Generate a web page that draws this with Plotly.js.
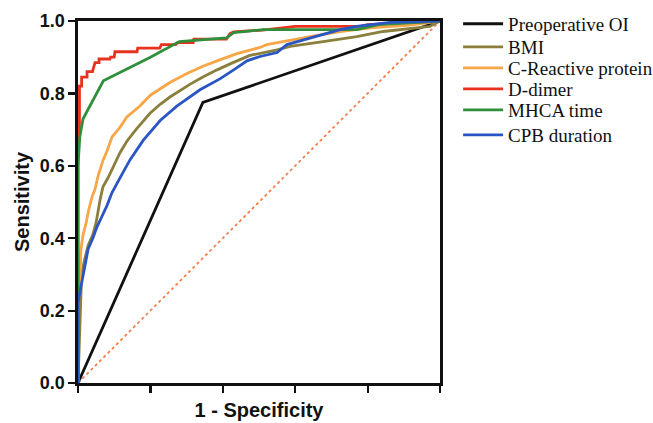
<!DOCTYPE html>
<html>
<head>
<meta charset="utf-8">
<script src="https://cdn.plot.ly/plotly-3.0.1.min.js"></script>
<style>html,body{margin:0;padding:0;background:#fff;}#chart{width:653px;height:423px;}</style>
</head>
<body>
<div id="chart"></div>
<script>
const seriesNames = ["Preoperative OI", "BMI", "C-Reactive protein", "D-dimer", "MHCA time", "CPB duration"];
const seriesColors = ["#111111", "#8a7f3c", "#f7a648", "#e8321e", "#2f8f3a", "#2a55c4"];

const oiX = [0, 0.345, 1];
const oiY = [0, 0.775, 1];

const bmiX = [0, 0.003, 0.008, 0.01, 0.018, 0.028, 0.041, 0.05, 0.061, 0.069, 0.083, 0.097, 0.116, 0.135, 0.16, 0.199, 0.227, 0.254, 0.309, 0.345, 0.384, 0.428, 0.475, 0.55, 0.586, 0.677, 0.77, 0.843, 0.909, 0.972, 1];
const bmiY = [0, 0.08, 0.21, 0.3, 0.34, 0.38, 0.41, 0.443, 0.506, 0.542, 0.567, 0.598, 0.636, 0.668, 0.7, 0.745, 0.77, 0.79, 0.825, 0.845, 0.865, 0.885, 0.905, 0.92, 0.93, 0.943, 0.957, 0.971, 0.979, 0.985, 1];

const crpX = [0, 0, 0.006, 0.008, 0.014, 0.022, 0.03, 0.039, 0.047, 0.055, 0.069, 0.08, 0.094, 0.115, 0.135, 0.171, 0.2, 0.254, 0.301, 0.345, 0.384, 0.439, 0.503, 0.522, 0.566, 0.613, 0.641, 0.724, 0.815, 0.909, 1];
const crpY = [0, 0.2, 0.3, 0.368, 0.41, 0.44, 0.48, 0.515, 0.535, 0.57, 0.615, 0.64, 0.68, 0.705, 0.735, 0.765, 0.795, 0.83, 0.855, 0.875, 0.89, 0.91, 0.927, 0.935, 0.943, 0.952, 0.957, 0.971, 0.982, 0.988, 1];

const ddX = [0, 0, 0.004, 0.004, 0.01, 0.01, 0.025, 0.025, 0.04, 0.047, 0.058, 0.058, 0.088, 0.09, 0.1, 0.102, 0.163, 0.165, 0.226, 0.23, 0.27, 0.275, 0.318, 0.32, 0.41, 0.42, 0.43, 0.51, 0.6, 0.78, 0.8, 1];
const ddY = [0, 0.66, 0.68, 0.82, 0.82, 0.845, 0.845, 0.86, 0.86, 0.885, 0.885, 0.895, 0.895, 0.9, 0.9, 0.915, 0.915, 0.925, 0.925, 0.935, 0.935, 0.94, 0.94, 0.95, 0.95, 0.965, 0.97, 0.975, 0.985, 0.985, 0.99, 1];

const mhcaX = [0, 0, 0.005, 0.014, 0.07, 0.2, 0.28, 0.41, 0.43, 0.51, 0.77, 0.83, 1];
const mhcaY = [0, 0.6, 0.68, 0.73, 0.835, 0.9, 0.943, 0.953, 0.968, 0.976, 0.976, 0.99, 1];

const cpbX = [0, 0, 0.005, 0.015, 0.028, 0.041, 0.052, 0.066, 0.08, 0.094, 0.108, 0.124, 0.144, 0.163, 0.18, 0.227, 0.273, 0.337, 0.392, 0.43, 0.467, 0.503, 0.55, 0.577, 0.613, 0.641, 0.677, 0.724, 0.77, 0.862, 1];
const cpbY = [0, 0.22, 0.25, 0.3, 0.37, 0.4, 0.43, 0.46, 0.49, 0.526, 0.553, 0.581, 0.617, 0.645, 0.67, 0.725, 0.765, 0.81, 0.84, 0.865, 0.89, 0.902, 0.913, 0.935, 0.945, 0.952, 0.963, 0.976, 0.985, 0.996, 1];

const refX = [0, 1];
const refY = [0, 1];

const xs = [oiX, bmiX, crpX, ddX, mhcaX, cpbX];
const ys = [oiY, bmiY, crpY, ddY, mhcaY, cpbY];

// vertical centre of each legend entry, in paper units
const legendRowY = [0.992, 0.928, 0.870, 0.812, 0.754, 0.685];

const traces = [{
  x: refX, y: refY, mode: 'lines', showlegend: false, hoverinfo: 'skip',
  line: {color: '#f27a45', width: 1.7, dash: 'dot'}
}];
const layout = {
  width: 653, height: 423,
  margin: {l: 78, r: 213, t: 21, b: 40, autoexpand: false},
  paper_bgcolor: '#fff', plot_bgcolor: '#fff',
  showlegend: true,
  xaxis: {
    range: [0, 1], dtick: 0.2, tick0: 0,
    showgrid: false, zeroline: false,
    showline: true, linecolor: '#111', linewidth: 2.7, mirror: true,
    ticks: 'outside', ticklen: 7, tickwidth: 2.2, tickcolor: '#111',
    showticklabels: false,
    title: {text: '1 - Specificity', standoff: 12,
      font: {family: 'Liberation Sans, Arial, sans-serif', size: 20, color: '#111', weight: 'bold'}}
  },
  yaxis: {
    range: [0, 1], dtick: 0.2, tick0: 0, tickformat: '.1f',
    showgrid: false, zeroline: false,
    showline: true, linecolor: '#111', linewidth: 2.7, mirror: true,
    ticks: 'outside', ticklen: 7, tickwidth: 2.2, tickcolor: '#111',
    tickfont: {family: 'Liberation Sans, Arial, sans-serif', size: 18, color: '#111', weight: 'bold'},
    title: {text: 'Sensitivity', standoff: 5,
      font: {family: 'Liberation Sans, Arial, sans-serif', size: 20, color: '#111', weight: 'bold'}}
  }
};

for (let i = 0; i < seriesNames.length; i++) {
  const key = i === 0 ? 'legend' : 'legend' + (i + 1);
  traces.push({
    x: xs[i], y: ys[i], mode: 'lines', name: seriesNames[i],
    legend: key,
    line: {color: seriesColors[i], width: 2.8}
  });
  layout[key] = {
    x: 1.05, y: legendRowY[i], xanchor: 'left', yanchor: 'middle',
    itemwidth: 40,
    font: {family: 'Liberation Serif, Times New Roman, serif', size: 19, color: '#111'},
    bgcolor: 'rgba(0,0,0,0)', borderwidth: 0
  };
}

Plotly.newPlot('chart', traces, layout, {displayModeBar: false, staticPlot: true});
</script>
</body>
</html>
